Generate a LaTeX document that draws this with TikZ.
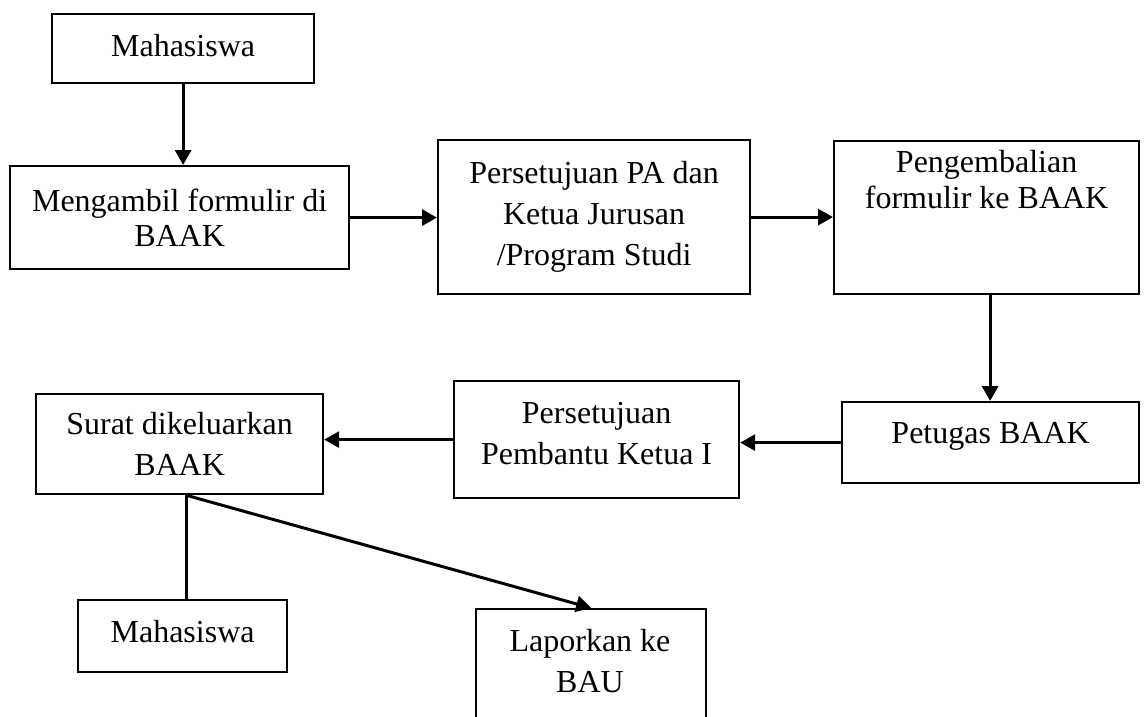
\documentclass[tikz,border=0pt]{standalone}
\usepackage{fontspec}
\setmainfont{Liberation Serif}
\usetikzlibrary{arrows.meta,calc}
\begin{document}
\begin{tikzpicture}[x=1pt,y=-1pt,
  box/.style={draw=black, line width=2.2pt, inner sep=0pt, anchor=north west, align=center,
    font=\fontsize{32}{41}\selectfont},
  conn/.style={line width=3pt, draw=black},
  arr/.style={conn, -{Triangle[length=15pt,width=16pt]}},
]
\useasboundingbox (0,0) rectangle (1144,717);
\clip (0,0) rectangle (1144,717);
\node[box, minimum width=262pt, minimum height=69pt, text depth=6pt] (m1) at (51,13) {Mahasiswa};
\node[box, minimum width=339pt, minimum height=103pt, font=\fontsize{32}{35}\selectfont] (b2) at (9,165) {Mengambil formulir di\\BAAK};
\node[box, minimum width=312pt, minimum height=154pt] (b3) at (437,139) {Persetujuan PA dan\\Ketua Jurusan\\/Program Studi};
\node[box, minimum width=305pt, minimum height=153pt, font=\fontsize{32}{36}\selectfont] (b4) at (833,140) {Pengembalian\\formulir ke BAAK\\[40pt]\mbox{}};
\node[box, minimum width=297pt, minimum height=81pt, text depth=20pt] (b5) at (841,401) {Petugas BAAK};
\node[box, minimum width=285pt, minimum height=117pt] (b6) at (453,380) {Persetujuan\\Pembantu Ketua I\\[-29pt]\mbox{}};
\node[box, minimum width=287pt, minimum height=100pt] (b7) at (35,393) {Surat dikeluarkan\\BAAK};
\node[box, minimum width=209pt, minimum height=72pt, text depth=10pt] (m2) at (77,599) {Mahasiswa};
\node[box, minimum width=230pt, minimum height=140pt] (lapor) at (475,608) {};
\node[font=\fontsize{32}{41}\selectfont, align=center, inner sep=0pt] (laportext) at (590,661) {Laporkan ke\\BAU};
\coordinate (split) at ([xshift=6.5pt]b7.south);
\draw[arr] (m1.south) -- (m1.south |- b2.north);
\draw[arr] (b2.east) -- (b2.east -| b3.west);
\draw[arr] (b3.east) -- (b3.east -| b4.west);
\draw[arr] ([xshift=3.5pt]b4.south) -- ([xshift=3.5pt]b4.south |- b5.north);
\draw[arr] (b5.west) -- (b5.west -| b6.east);
\draw[arr] (b6.west) -- (b6.west -| b7.east);
\draw[conn] (split) -- (split |- m2.north);
\draw[arr] (split) -- (lapor.north);
\end{tikzpicture}
\end{document}
